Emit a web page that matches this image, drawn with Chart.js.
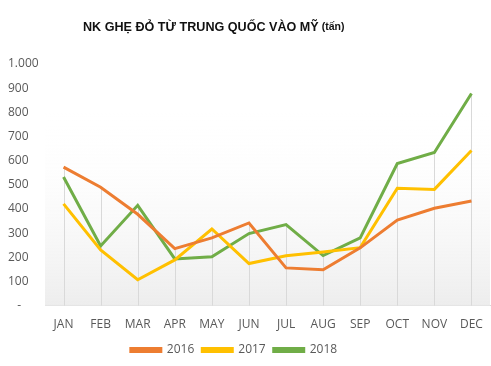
<!DOCTYPE html>
<html>
<head>
<meta charset="utf-8">
<script src="https://cdn.jsdelivr.net/npm/chart.js@4"></script>
<style>
  html,body{margin:0;padding:0;background:#fff}
  #wrap{position:relative;width:491px;height:366px}
  #title{position:absolute;left:83px;top:20px;font-family:'Liberation Sans',Arial,sans-serif;font-weight:700;font-size:12.6px;color:#111;white-space:nowrap}
  #title small{font-size:10.5px;margin-left:3px;position:relative;top:-1px}
</style>
</head>
<body>
<div id="wrap">
  <div id="title">NK GHẸ ĐỎ TỪ TRUNG QUỐC VÀO MỸ<small>(tấn)</small></div>
  <canvas id="c" width="491" height="366"></canvas>
</div>
<script>
// months on x axis
const MONTHS = ['JAN','FEB','MAR','APR','MAY','JUN','JUL','AUG','SEP','OCT','NOV','DEC'];
// imports (tonnes)
const Y2016 = [573, 490, 378, 236, 280, 342, 156, 148, 239, 354, 403, 433];
const Y2017 = [421, 230, 107, 189, 317, 174, 206, 222, 240, 486, 481, 642];
const Y2018 = [532, 247, 415, 193, 202, 298, 335, 207, 280, 588, 634, 878];
const Y_TICKS = [0, 100, 200, 300, 400, 500, 600, 700, 800, 900, 1000];

const FONT = "'Open Sans', sans-serif";
const GREY = '#595959';

// drop lines from the highest point down to the axis + soft plot background
const dropLines = {
  id: 'dropLines',
  beforeDatasetsDraw(chart) {
    const { ctx, chartArea: a, scales: { x, y } } = chart;
    const y0 = y.getPixelForValue(800);
    const g = ctx.createLinearGradient(0, y0, 0, a.bottom);
    g.addColorStop(0, 'rgba(255,255,255,0)');
    g.addColorStop(1, '#ededed');
    ctx.save();
    ctx.fillStyle = g;
    ctx.fillRect(a.left, y0, a.right - a.left, a.bottom - y0);
    ctx.strokeStyle = '#d9d9d9';
    ctx.lineWidth = 1;
    MONTHS.forEach((m, i) => {
      const top = Math.max(Y2016[i], Y2017[i], Y2018[i]);
      const px = Math.round(x.getPixelForValue(i)) + 0.5;
      ctx.beginPath();
      ctx.moveTo(px, y.getPixelForValue(top));
      ctx.lineTo(px, a.bottom);
      ctx.stroke();
    });
    ctx.restore();
  },
  afterLayout(chart) {
    // nudge legend a bit left like the original
    chart.legend.right -= 30;
  }
};

const ds = (label, data, color) => ({
  label, data, borderColor: color, backgroundColor: color,
  borderWidth: 3, pointRadius: 0, tension: 0, fill: false
});

new Chart(document.getElementById('c'), {
  type: 'line',
  data: {
    labels: MONTHS,
    datasets: [
      ds('2016', Y2016, '#ed7d31'),
      ds('2017', Y2017, '#ffc000'),
      ds('2018', Y2018, '#70ad47')
    ]
  },
  options: {
    responsive: false, animation: false,
    layout: { padding: { top: 64, left: 8, right: 1, bottom: 0 } },
    plugins: {
      title: { display: false },
      tooltip: { enabled: false },
      legend: {
        position: 'bottom',
        labels: { font: { family: FONT, size: 12 }, color: GREY, boxWidth: 30, boxHeight: 3, padding: 8 }
      }
    },
    scales: {
      x: {
        offset: true,
        grid: { display: false },
        border: { color: '#d9d9d9' },
        ticks: { font: { family: FONT, size: 12 }, color: GREY, padding: 4, maxRotation: 0 }
      },
      y: {
        min: 0, max: 1000,
        afterBuildTicks: s => { s.ticks = Y_TICKS.map(v => ({ value: v })); },
        afterFit: s => { s.width = 37; },
        grid: { display: false },
        border: { display: false },
        ticks: {
          font: { family: FONT, size: 12 }, color: GREY, crossAlign: 'far',
          callback: v => v === 0 ? '   -' : v.toLocaleString('de-DE')
        }
      }
    }
  },
  plugins: [dropLines]
});
</script>
</body>
</html>
